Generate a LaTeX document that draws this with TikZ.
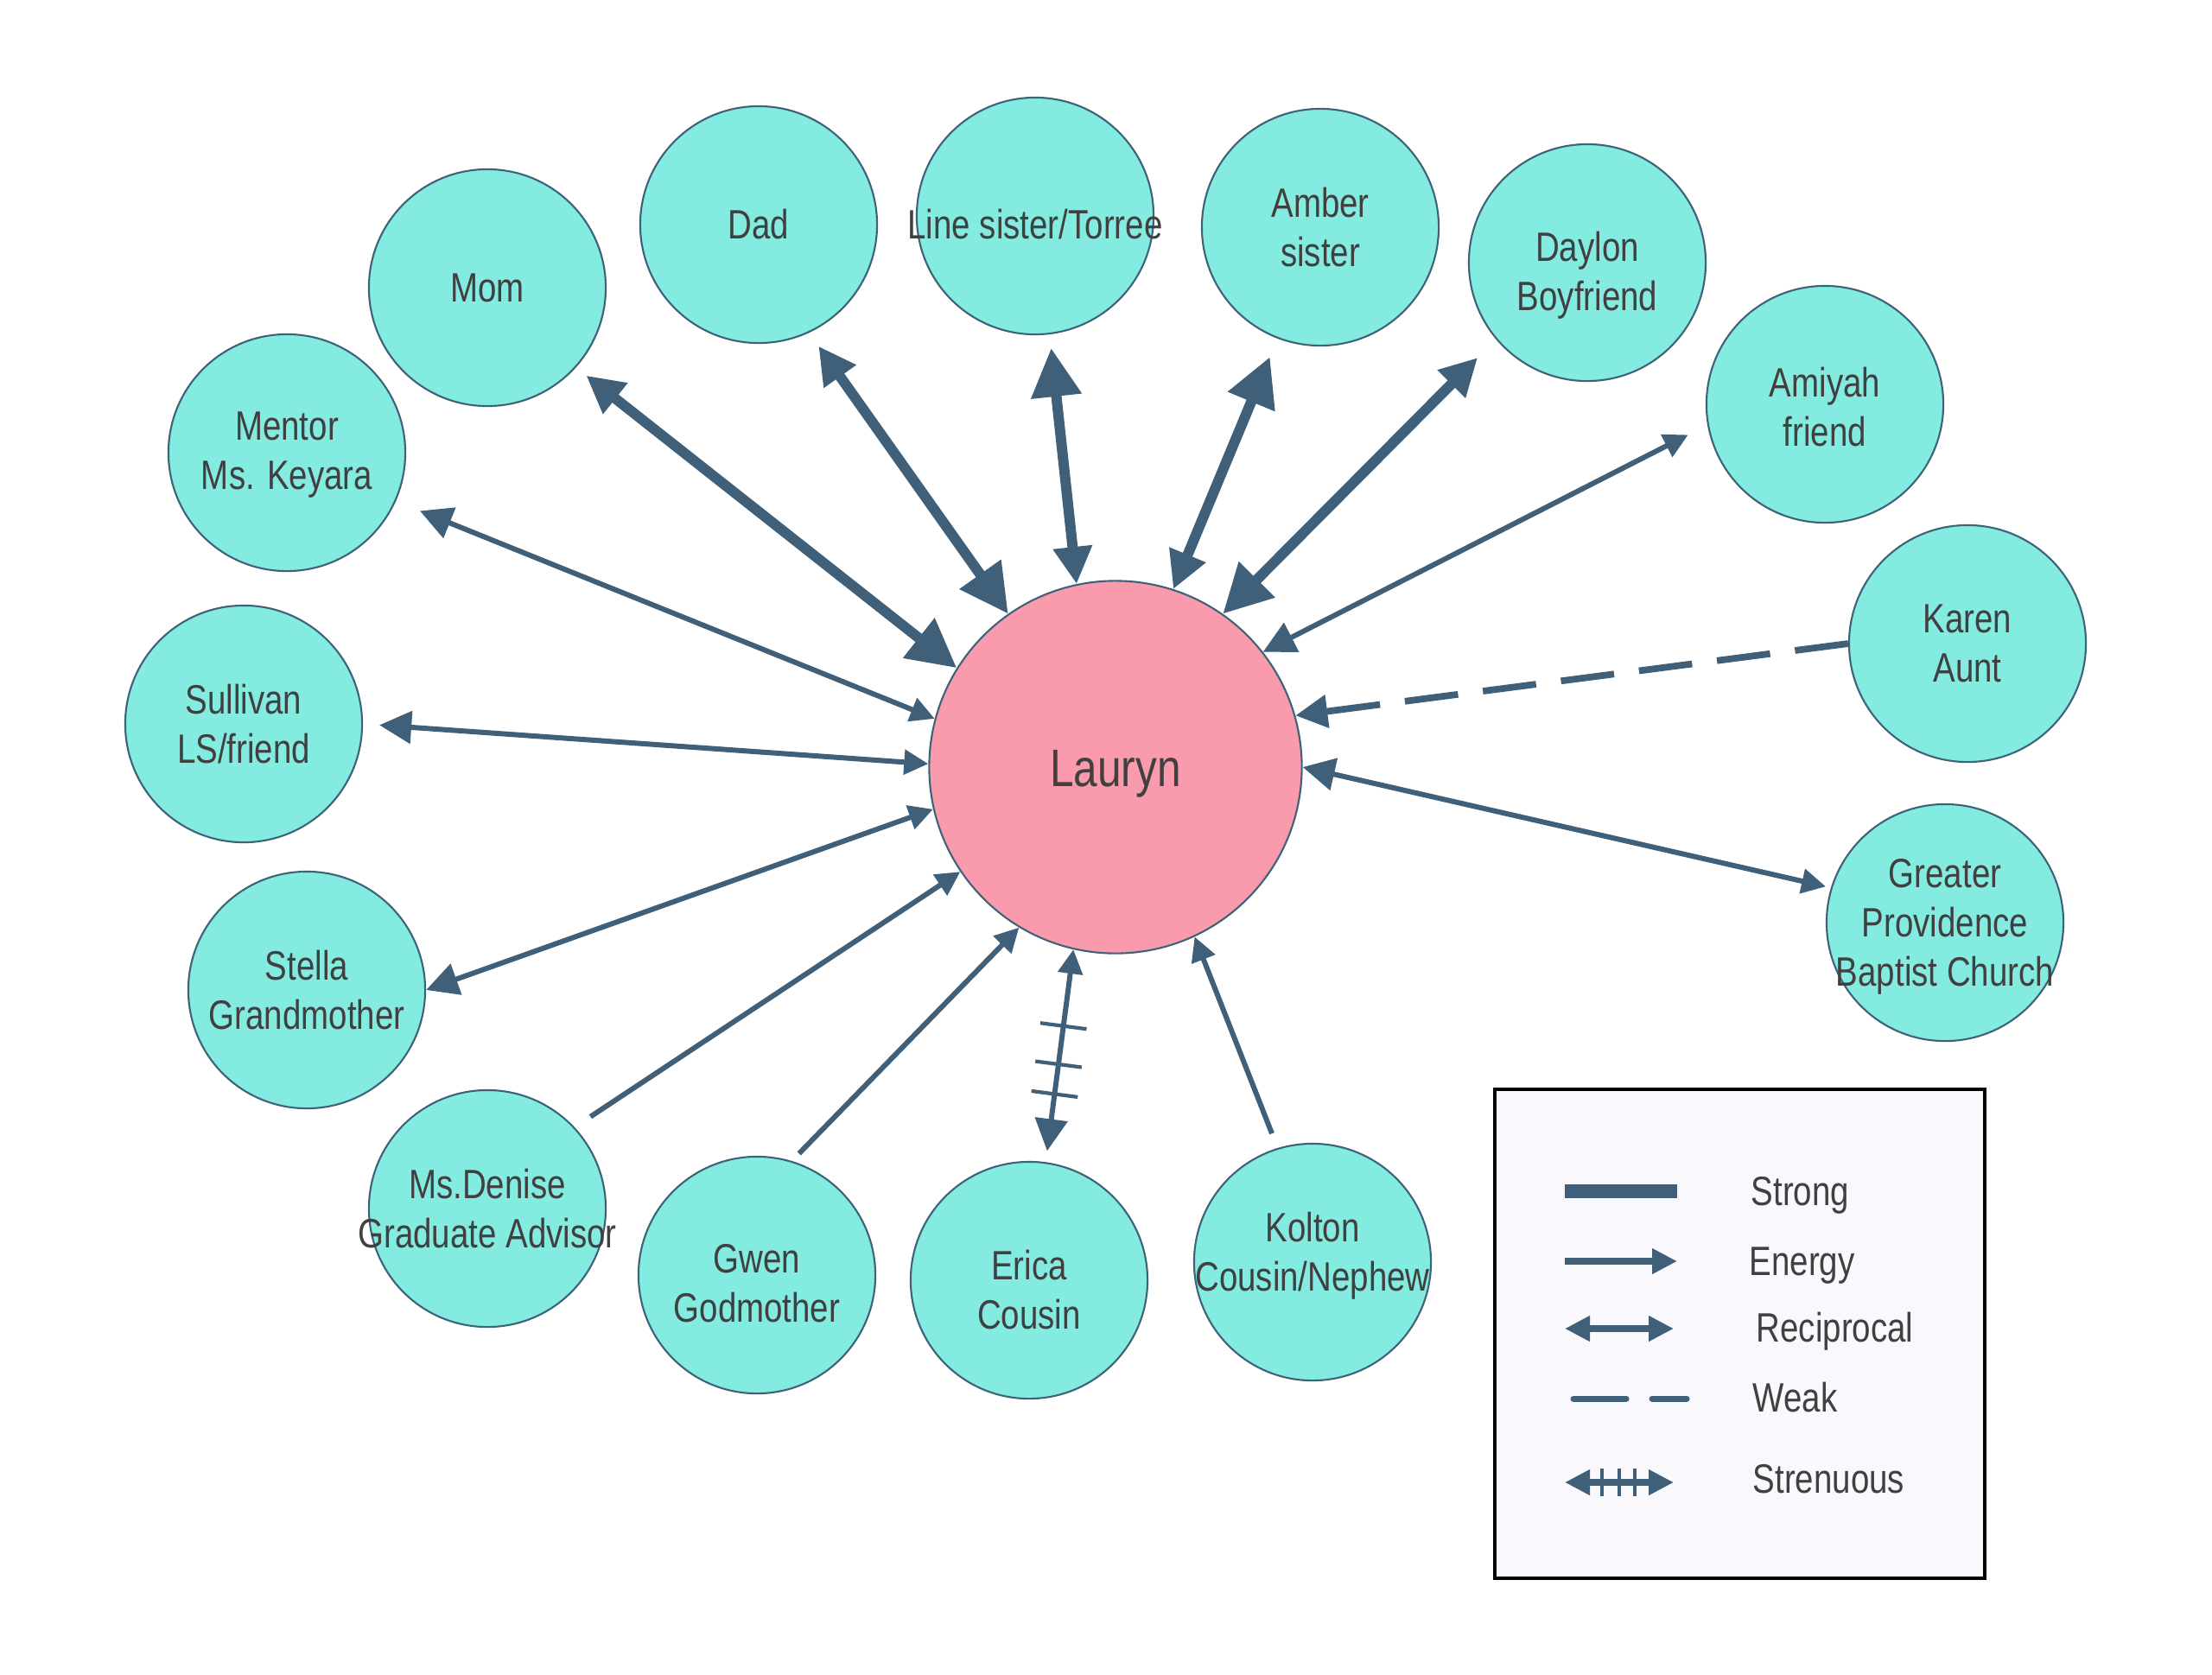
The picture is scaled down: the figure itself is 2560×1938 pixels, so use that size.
\documentclass[tikz,border=0pt]{standalone}
\usepackage{fontspec}
\setmainfont{Liberation Sans}[FakeStretch=0.81]
\usetikzlibrary{arrows.meta,decorations.markings}
\definecolor{cyanc}{RGB}{132,235,224}
\definecolor{pinkc}{RGB}{249,154,173}
\definecolor{edgec}{RGB}{62,98,120}
\definecolor{linkc}{RGB}{64,96,122}
\definecolor{txtc}{RGB}{64,64,64}
\definecolor{legbg}{RGB}{249,248,252}
\tikzset{
bigtip/.tip={Triangle[length=0.56cm,width=0.56cm]},
midtip/.tip={Triangle[length=0.43cm,width=0.43cm]},
thintip/.tip={Triangle[length=0.37cm,width=0.37cm]},
smalltip/.tip={Triangle[length=0.28cm,width=0.28cm]},
legtip/.tip={Triangle[length=0.29cm,width=0.28cm]},
person/.style={circle,draw=edgec,fill=cyanc,line width=0.6pt,minimum size=2.74cm,inner sep=0pt},
ptext/.style={align=center,text=txtc,font=\fontsize{13.5}{16.2}\selectfont},
legtext/.style={ptext,inner sep=0pt,anchor=base west},
strong/.style={linkc,line width=3.4pt},
energy/.style={linkc,line width=1.7pt},
weak/.style={linkc,line width=2.2pt,dash pattern=on 0.62cm off 0.29cm},
hatch/.style n args={4}{postaction={decorate,decoration={markings,
 mark=at position #1 with {\draw[-,shorten <=0pt,shorten >=0pt,linkc,line width=1.2pt,solid] (0pt,-#4)--(0pt,#4);},
 mark=at position #2 with {\draw[-,shorten <=0pt,shorten >=0pt,linkc,line width=1.2pt,solid] (0pt,-#4)--(0pt,#4);},
 mark=at position #3 with {\draw[-,shorten <=0pt,shorten >=0pt,linkc,line width=1.2pt,solid] (0pt,-#4)--(0pt,#4);}}}}
}
\begin{document}
\begin{tikzpicture}[x=0.01cm,y=-0.01cm]
\useasboundingbox (0,0) rectangle (2560,1938);
\node[circle,draw=edgec,fill=pinkc,line width=0.6pt,minimum size=4.31cm,inner sep=0pt,label={[text=txtc,font=\fontsize{17.4}{21}\selectfont,yshift=-0.08cm]center:Lauryn}] (lauryn) at (1291,888) {};
\node[person,label={[ptext]center:Mom}] (mom) at (564,333) {};
\node[person,label={[ptext]center:Dad}] (dad) at (878,260) {};
\node[person,label={[ptext,yshift=-0.1cm]center:Line sister/Torree}] (linesis) at (1198,250) {};
\node[person,label={[ptext]center:Amber\\sister}] (amber) at (1528,263) {};
\node[person,label={[ptext,yshift=-0.15cm]center:Daylon\\Boyfriend}] (daylon) at (1837,304) {};
\node[person,label={[ptext,yshift=-0.03cm]center:Amiyah\\friend}] (amiyah) at (2112,468) {};
\node[person,label={[ptext]center:Karen\\Aunt}] (karen) at (2277,745) {};
\node[person,label={[ptext,yshift=-0.05cm]center:Greater\\Providence\\Baptist Church}] (church) at (2251,1068) {};
\node[person,label={[ptext,yshift=-0.03cm]center:Mentor\\Ms. Keyara}] (mentor) at (332,524) {};
\node[person,label={[ptext]center:Sullivan\\LS/friend}] (sullivan) at (282,838) {};
\node[person,label={[ptext]center:Stella\\Grandmother}] (stella) at (355,1146) {};
\node[person,label={[ptext]center:Ms.Denise\\Graduate Advisor}] (denise) at (564,1399) {};
\node[person,label={[ptext,yshift=-0.1cm]center:Gwen\\Godmother}] (gwen) at (876,1476) {};
\node[person,label={[ptext,yshift=-0.11cm]center:Erica\\Cousin}] (erica) at (1191,1482) {};
\node[person,label={[ptext,yshift=0.07cm]center:Kolton\\Cousin/Nephew}] (kolton) at (1519,1461) {};

\draw[strong,{midtip}-{bigtip},shorten <=0.15cm] (mom.-42) -- (lauryn.148);
\draw[strong,{midtip}-{bigtip},shorten <=0.19cm] (dad.-65) -- (lauryn.125.5);
\draw[strong,{bigtip}-{midtip},shorten <=0.16cm] (linesis.-83) -- (lauryn.102);
\draw[strong,{bigtip}-{midtip},shorten <=0.23cm] (amber.-111) -- (lauryn.72.5);
\draw[strong,{midtip}-{bigtip},shorten <=0.30cm] (daylon.-140) -- (lauryn.55.7);
\draw[energy,{smalltip}-{thintip},shorten <=0.25cm] (amiyah.-170) -- (lauryn.38.8);
\draw[weak,-{thintip}] (karen.180) -- (lauryn.16);
\draw[energy,{smalltip}-{thintip},shorten <=0.06cm] (church.163.7) -- (lauryn.0.3);
\draw[energy,{thintip}-{smalltip},shorten <=0.30cm] (mentor.-24.4) -- (lauryn.165.7);
\draw[energy,{thintip}-{smalltip},shorten <=0.19cm] (sullivan.0.7) -- (lauryn.179.7);
\draw[energy,{thintip}-{smalltip}] (stella.0.4) -- (lauryn.193.3);
\draw[energy,-{smalltip},shorten <=0.22cm] (denise.43) -- (lauryn.-146);
\draw[energy,-{smalltip},shorten <=0.12cm] (gwen.73) -- (lauryn.-121.5);
\draw[energy,{smalltip}-{thintip},shorten >=0.13cm,hatch={0.36}{0.54}{0.68}{0.27cm}] (lauryn.-103) -- (erica.82);
\draw[energy,-{smalltip},shorten <=0.18cm] (kolton.107) -- (lauryn.-65.3);

\draw[line width=1.3pt,fill=legbg] (1730,1261) rectangle (2297,1827);
\coordinate (strongA) at (1811,1379);
\coordinate (strongB) at (1941,1379);
\coordinate (energyA) at (1811,1460);
\coordinate (energyB) at (1941,1460);
\coordinate (recipA) at (1811,1538);
\coordinate (recipB) at (1937,1538);
\coordinate (weakA) at (1821,1619);
\coordinate (weakB) at (1952,1619);
\coordinate (strenA) at (1811,1716);
\coordinate (strenB) at (1937,1716);
\draw[strong,line width=4.8pt] (strongA) -- (strongB);
\draw[energy,line width=2.4pt,-{legtip}] (energyA) -- (energyB);
\draw[energy,line width=2.4pt,{legtip}-{legtip}] (recipA) -- (recipB);
\draw[weak,line width=2pt,line cap=round,dash pattern=on 0.61cm off 0.30cm] (weakA) -- (weakB);
\draw[energy,line width=2.4pt,{legtip}-{legtip},hatch={0.34}{0.5}{0.64}{0.16cm}] (strenA) -- (strenB);
\node[legtext] (strongtxt) at (2026,1395) {Strong};
\node[legtext] (energytxt) at (2024,1476) {Energy};
\node[legtext] (reciptxt) at (2032,1553) {Reciprocal};
\node[legtext] (weaktxt) at (2028,1634) {Weak};
\node[legtext] (strentxt) at (2028,1728) {Strenuous};
\end{tikzpicture}
\end{document}
